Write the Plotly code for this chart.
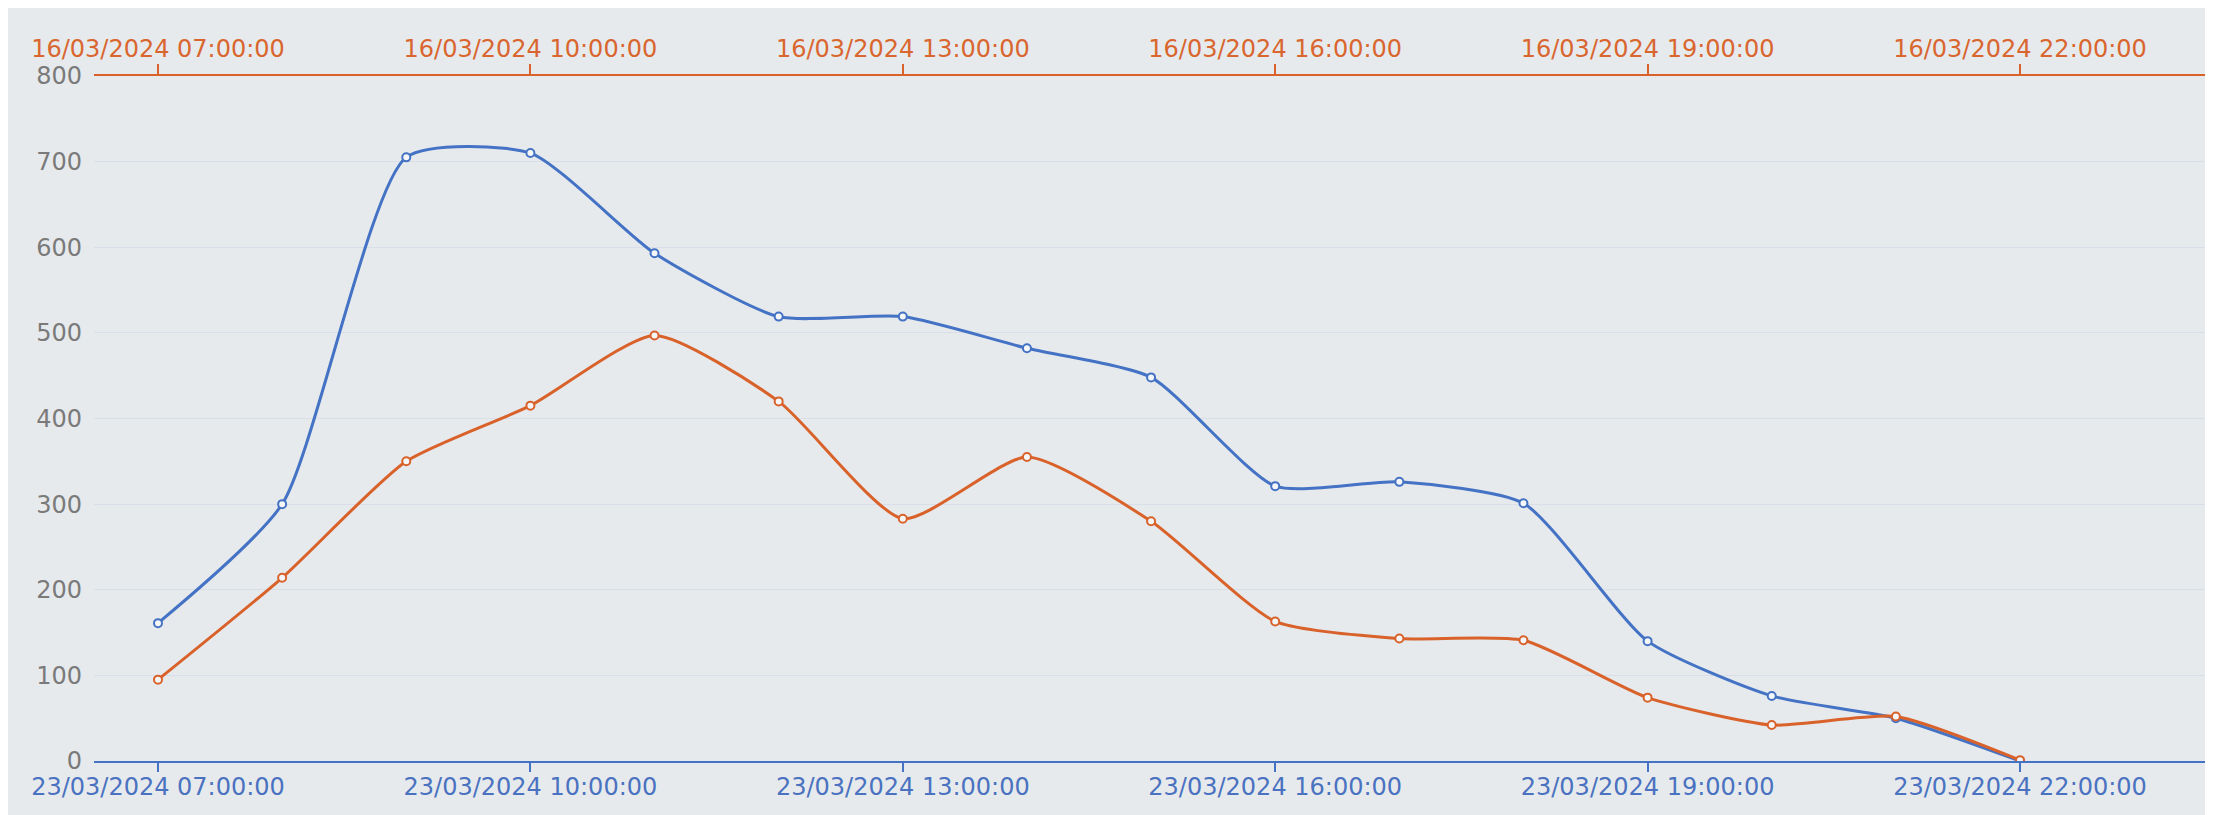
import plotly.graph_objects as go

hours = ["07:00:00", "08:00:00", "09:00:00", "10:00:00", "11:00:00", "12:00:00",
         "13:00:00", "14:00:00", "15:00:00", "16:00:00", "17:00:00", "18:00:00",
         "19:00:00", "20:00:00", "21:00:00", "22:00:00"]
day_blue = "2024-03-23"
day_orange = "2024-03-16"
blue_values = [161, 300, 705, 710, 593, 519, 519, 482, 448, 321, 326, 301, 140, 76, 50, 0]
orange_values = [95, 214, 350, 415, 497, 420, 283, 355, 280, 163, 143, 141, 74, 42, 52, 1]
tick_hours = ["07:00:00", "10:00:00", "13:00:00", "16:00:00", "19:00:00", "22:00:00"]

BLUE = "#4472C4"
ORANGE = "#D9622B"
BG = "#E7EAED"
FONT = "DejaVu Sans"

x_blue = [f"{day_blue} {h}" for h in hours]
x_orange = [f"{day_orange} {h}" for h in hours]

fig = go.Figure()
fig.add_trace(go.Scatter(
    x=x_blue, y=blue_values, xaxis="x", yaxis="y", mode="lines+markers",
    line=dict(color=BLUE, width=3, shape="spline", smoothing=0.6),
    marker=dict(symbol="circle", size=8, color="#F4F6F8", line=dict(color=BLUE, width=2)),
    showlegend=False,
))
fig.add_trace(go.Scatter(
    x=x_orange, y=orange_values, xaxis="x2", yaxis="y", mode="lines+markers",
    line=dict(color=ORANGE, width=3, shape="spline", smoothing=0.6),
    marker=dict(symbol="circle", size=8, color="#F4F6F8", line=dict(color=ORANGE, width=2)),
    showlegend=False,
))

axis_common = dict(
    type="date", showgrid=False, zeroline=False, showline=True, linewidth=2,
    ticks="outside", tickwidth=1.5, tickformat="%d/%m/%Y %H:%M:%S",
)
fig.update_layout(
    width=2205, height=807,
    margin=dict(l=86, r=6, t=68, b=54),
    paper_bgcolor=BG, plot_bgcolor=BG,
    font=dict(family=FONT, size=24),
    xaxis=dict(
        **axis_common,
        ticklen=9, ticklabelstandoff=-6,
        range=[f"{day_blue} 06:29:04", f"{day_blue} 23:30:23"],
        tickvals=[f"{day_blue} {h}" for h in tick_hours],
        linecolor=BLUE, tickcolor=BLUE, tickfont=dict(color="#4A72C0", size=24),
        side="bottom", anchor="y",
    ),
    xaxis2=dict(
        **axis_common,
        ticklen=10, ticklabelstandoff=-3,
        range=[f"{day_orange} 06:29:04", f"{day_orange} 23:30:23"],
        tickvals=[f"{day_orange} {h}" for h in tick_hours],
        linecolor=ORANGE, tickcolor=ORANGE, tickfont=dict(color="#D9662F", size=24),
        side="top", anchor="y", overlaying="x",
    ),
    yaxis=dict(
        range=[0, 800], dtick=100, showgrid=True, gridcolor="#D9DFE9", gridwidth=1,
        zeroline=False, showline=False, ticks="", ticklabelstandoff=11,
        tickfont=dict(color="#7A7A7A", size=24),
    ),
)

fig.write_html(
    "out.html",
    post_script="document.body.style.overflow='hidden';",
)
